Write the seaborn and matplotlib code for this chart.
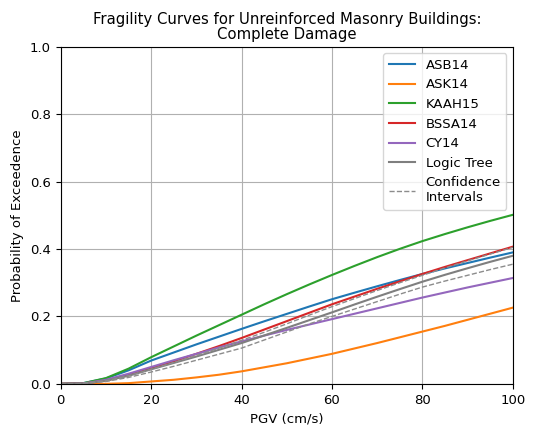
import numpy as np
import pandas as pd
import matplotlib
matplotlib.use("Agg")
import matplotlib.pyplot as plt
import seaborn as sns

# Peak ground velocity grid (cm/s)
pgv = [0, 5, 10, 15, 20, 25, 30, 35, 40, 45, 50, 55, 60, 65, 70, 75, 80, 85, 90, 95, 100]

# Probability of exceeding complete damage for each ground-motion model
asb14 = [0, 0.002, 0.016, 0.040, 0.069, 0.093, 0.117, 0.140, 0.163, 0.1855, 0.2075,
         0.2295, 0.251, 0.2705, 0.2895, 0.308, 0.326, 0.3425, 0.3585, 0.3745, 0.390]
ask14 = [0, 0.000, 0.000, 0.002, 0.007, 0.012, 0.019, 0.027, 0.037, 0.049, 0.061,
         0.075, 0.089, 0.105, 0.121, 0.138, 0.155, 0.172, 0.190, 0.208, 0.226]
kaah15 = [0, 0.002, 0.017, 0.045, 0.079, 0.111, 0.143, 0.174, 0.205, 0.236, 0.266,
          0.295, 0.323, 0.350, 0.376, 0.4005, 0.4235, 0.4445, 0.4645, 0.4835, 0.5015]
bssa14 = [0, 0.001, 0.010, 0.026, 0.046, 0.067, 0.089, 0.112, 0.136, 0.161, 0.186,
          0.211, 0.236, 0.259, 0.282, 0.304, 0.326, 0.347, 0.367, 0.387, 0.407]
cy14 = [0, 0.001, 0.012, 0.030, 0.050, 0.070, 0.089, 0.108, 0.126, 0.143, 0.160,
        0.176, 0.192, 0.208, 0.224, 0.240, 0.256, 0.271, 0.286, 0.300, 0.314]
logic_tree = [0, 0.001, 0.009, 0.024, 0.043, 0.062, 0.081, 0.101, 0.121, 0.1435, 0.166,
              0.189, 0.212, 0.2355, 0.2585, 0.281, 0.303, 0.3235, 0.343, 0.362, 0.380]
ci_upper = [0, 0.001, 0.009, 0.024, 0.043, 0.063, 0.084, 0.106, 0.129, 0.153, 0.178,
            0.204, 0.229, 0.253, 0.277, 0.300, 0.322, 0.344, 0.365, 0.385, 0.405]
ci_lower = [0, 0.001, 0.007, 0.019, 0.035, 0.052, 0.070, 0.088, 0.106, 0.130, 0.154,
            0.178, 0.200, 0.222, 0.244, 0.266, 0.287, 0.305, 0.322, 0.339, 0.355]

models = ["ASB14", "ASK14", "KAAH15", "BSSA14", "CY14", "Logic Tree"]
series = [asb14, ask14, kaah15, bssa14, cy14, logic_tree]
colors = ["#1f77b4", "#ff7f0e", "#2ca02c", "#d62728", "#9467bd", "#7f7f7f"]

df = pd.DataFrame({
    "PGV": pgv * len(models),
    "P": sum(series, []),
    "Model": sum([[m] * len(pgv) for m in models], []),
})

plt.rcParams["font.size"] = 9.5

fig = plt.figure(figsize=(5.33, 4.26), dpi=100)
ax = fig.add_axes([0.114, 0.099, 0.848, 0.791])

sns.lineplot(data=df, x="PGV", y="P", hue="Model", hue_order=models,
             palette=colors, linewidth=1.5, ax=ax)

ci = pd.DataFrame({"PGV": pgv, "upper": ci_upper, "lower": ci_lower})
sns.lineplot(data=ci, x="PGV", y="upper", color="#8c8c8c", linestyle="--",
             linewidth=1.0, ax=ax, label="Confidence\nIntervals")
sns.lineplot(data=ci, x="PGV", y="lower", color="#8c8c8c", linestyle="--",
             linewidth=1.0, ax=ax)

ax.set_xlim(0, 100)
ax.set_ylim(0, 1.0)
ax.set_xticks([0, 20, 40, 60, 80, 100])
ax.set_yticks([0, 0.2, 0.4, 0.6, 0.8, 1.0])
ax.grid(True, color="#b0b0b0", linewidth=0.8)
ax.set_axisbelow(True)
ax.set_xlabel("PGV (cm/s)")
ax.set_ylabel("Probability of Exceedence")
ax.set_title("Fragility Curves for Unreinforced Masonry Buildings:\nComplete Damage",
             fontsize=10.7, linespacing=1.0)

handles, labels = ax.get_legend_handles_labels()
ax.legend(handles, labels, loc="upper right", fontsize=9.5)

fig.savefig("out.png", dpi=100)
